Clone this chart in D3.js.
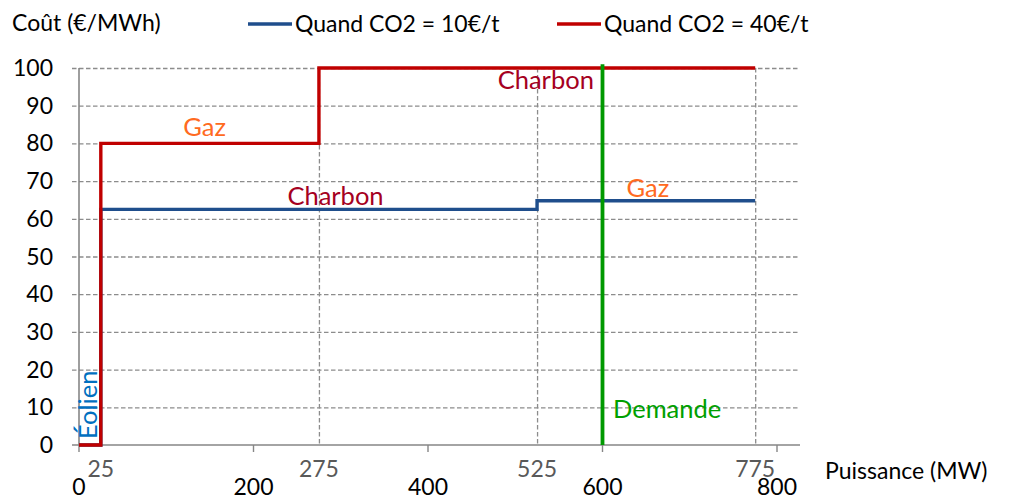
<!DOCTYPE html>
<html>
<head>
<meta charset="utf-8">
<script src="https://cdn.jsdelivr.net/npm/d3@7"></script>
<style>
  body { margin: 0; background: #fff; }
  svg text { font-family: Lato, "Open Sans", sans-serif; }
  .grid line { stroke: #8c8c8c; stroke-width: 1.3; stroke-dasharray: 4.5,2.5; }
  .grid path { display: none; }
</style>
</head>
<body>
<div id="chart"></div>
<script>
// data
var yTicks = [0, 10, 20, 30, 40, 50, 60, 70, 80, 90, 100];
var xTicks = [0, 200, 400, 600, 800];
var xTicks2 = [25, 275, 525, 775];       // secondary labels (capacity breaks)
var vGrid = [275, 525, 775];

// merit order, CO2 = 10 €/t
var blueX = [0, 25, 25, 525, 525, 775];
var blueY = [0, 0, 62.5, 62.5, 64.8, 64.8];
// merit order, CO2 = 40 €/t
var redX = [0, 25, 25, 275, 275, 775];
var redY = [0, 0, 80, 80, 100, 100];

var demand = 600;
var demandTop = 101;

var seriesNames = ["Quand CO2 = 10€/t", "Quand CO2 = 40€/t"];
var seriesColors = ["#1f4e8c", "#c00000"];

// annotations: text, x, y (data units), colour
var labels = [
  {t: "Gaz",     x: 144, y: 82,   c: "#ff6a21"},
  {t: "Charbon", x: 535, y: 94.4, c: "#a50021"},
  {t: "Charbon", x: 294, y: 63.7, c: "#a50021"},
  {t: "Gaz",     x: 652, y: 65.8, c: "#ff6a21"},
  {t: "Demande", x: 612, y: 7.2,  c: "#00a000", anchor: "start"}
];

var W = 1017, H = 504;
var m = {left: 79, right: 800, top: 68, bottom: 445};
var fs = 23, fsAnn = 25.5;

var svg = d3.select("#chart").append("svg")
  .attr("width", W).attr("height", H);

var x = d3.scaleLinear().domain([0, 800]).range([m.left, 777]);
var y = d3.scaleLinear().domain([0, 100]).range([m.bottom, m.top]);

// horizontal grid
svg.append("g")
  .attr("class", "grid")
  .attr("transform", "translate(72,0)")
  .call(d3.axisLeft(y).tickValues(yTicks.filter(function(d){ return d > 0; }))
    .tickSize(-(m.right - 72)).tickFormat(""));

// vertical grid
svg.append("g")
  .attr("class", "grid")
  .attr("transform", "translate(0," + m.top + ")")
  .call(d3.axisBottom(x).tickValues(vGrid).tickSize(m.bottom - m.top).tickFormat(""));

// axes
svg.append("line")
  .attr("x1", m.left).attr("x2", m.left).attr("y1", m.top).attr("y2", m.bottom)
  .attr("stroke", "#868686").attr("stroke-width", 1.6);
svg.append("line")
  .attr("x1", 72).attr("x2", m.right).attr("y1", m.bottom).attr("y2", m.bottom)
  .attr("stroke", "#868686").attr("stroke-width", 1.6);

svg.selectAll(".xtick").data(xTicks).enter().append("line")
  .attr("x1", function(d){ return x(d); }).attr("x2", function(d){ return x(d); })
  .attr("y1", m.bottom).attr("y2", m.bottom + 7)
  .attr("stroke", "#868686").attr("stroke-width", 1.4);

// y labels
svg.selectAll(".ylab").data(yTicks).enter().append("text")
  .attr("x", 53).attr("y", function(d){ return y(d) + 8; })
  .attr("text-anchor", "end")
  .attr("font-size", fs).attr("fill", "#000")
  .text(function(d){ return d; });

// x labels
svg.selectAll(".xlab").data(xTicks).enter().append("text")
  .attr("x", function(d){ return x(d); }).attr("y", 495)
  .attr("text-anchor", "middle")
  .attr("font-size", fs).attr("fill", "#000")
  .text(function(d){ return d; });

svg.selectAll(".xlab2").data(xTicks2).enter().append("text")
  .attr("x", function(d){ return x(d); }).attr("y", 477)
  .attr("text-anchor", "middle")
  .attr("font-size", fs).attr("fill", "#595959")
  .text(function(d){ return d; });

// axis titles
svg.append("text").attr("x", 12).attr("y", 31)
  .attr("font-size", fs).text("Coût (€/MWh)");
svg.append("text").attr("x", 825).attr("y", 479)
  .attr("font-size", fs).text("Puissance (MW)");

// series
var line = d3.line()
  .x(function(d){ return x(d[0]); })
  .y(function(d){ return y(d[1]); });

svg.append("path")
  .datum(d3.zip(blueX, blueY))
  .attr("d", line).attr("fill", "none")
  .attr("stroke", seriesColors[0]).attr("stroke-width", 3.4);

svg.append("path")
  .datum(d3.zip(redX, redY))
  .attr("d", line).attr("fill", "none")
  .attr("stroke", seriesColors[1]).attr("stroke-width", 3.4);

// demand
svg.append("line")
  .attr("x1", x(demand)).attr("x2", x(demand))
  .attr("y1", y(0)).attr("y2", y(demandTop))
  .attr("stroke", "#009900").attr("stroke-width", 3.8);

// annotations
svg.selectAll(".ann").data(labels).enter().append("text")
  .attr("x", function(d){ return x(d.x); })
  .attr("y", function(d){ return y(d.y); })
  .attr("text-anchor", function(d){ return d.anchor || "middle"; })
  .attr("font-size", fsAnn)
  .attr("fill", function(d){ return d.c; })
  .text(function(d){ return d.t; });

svg.append("text")
  .attr("transform", "translate(97,439)rotate(-90)")
  .attr("font-size", fsAnn).attr("fill", "#0070c0")
  .text("Éolien");

// legend
var legX = [248, 557];
var leg = svg.selectAll(".leg").data(seriesNames).enter().append("g")
  .attr("transform", function(d, i){ return "translate(" + legX[i] + ",24)"; });
leg.append("line").attr("x1", 0).attr("x2", 44)
  .attr("stroke", function(d, i){ return seriesColors[i]; })
  .attr("stroke-width", 3.4);
leg.append("text").attr("x", 47).attr("y", 8)
  .attr("font-size", fs)
  .text(function(d){ return d; });
</script>
</body>
</html>
